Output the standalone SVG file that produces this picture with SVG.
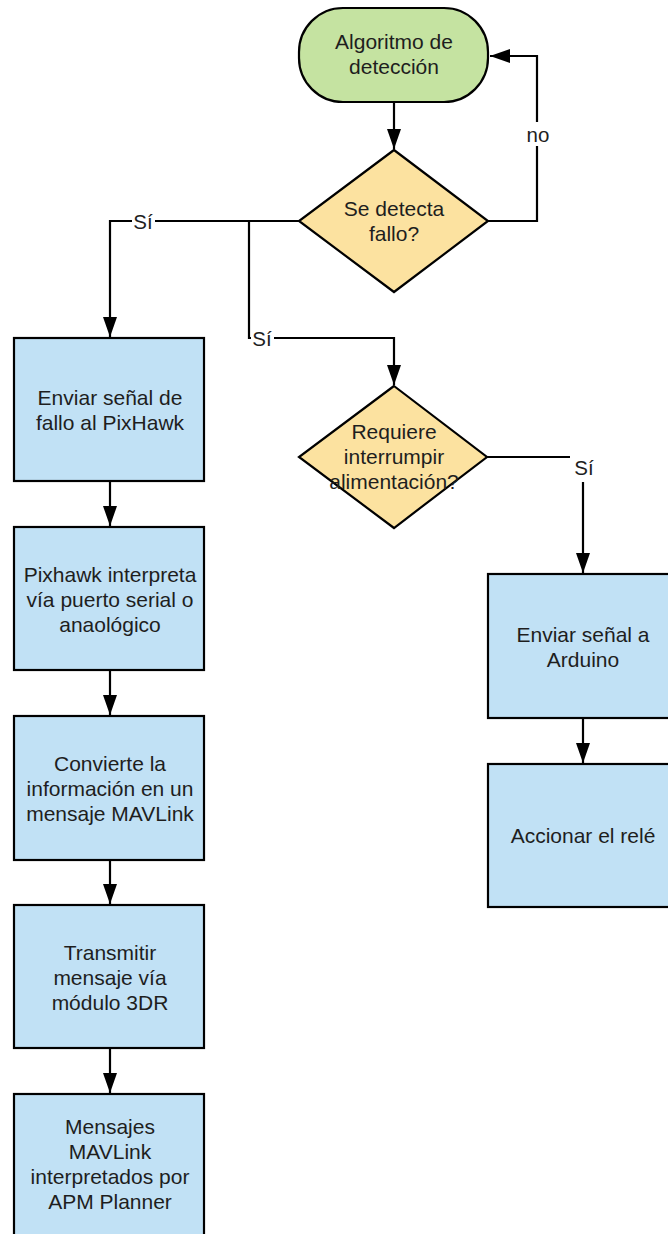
<svg xmlns="http://www.w3.org/2000/svg" width="668" height="1234" viewBox="0 0 668 1234">
  <style>
    .node { stroke: #000; stroke-width: 2.2; }
    .start { fill: #c5e3a1; }
    .decision { fill: #fce2a0; }
    .process { fill: #c1e1f5; }
    .label { font-family: "Liberation Sans", Arial, sans-serif; font-size: 21px; fill: #1e1e1e; text-anchor: middle; dominant-baseline: central; }
    .edge { fill: none; stroke: #000; stroke-width: 2.2; }
    .edge-label { font-family: "Liberation Sans", Arial, sans-serif; font-size: 20.5px; fill: #1e1e1e; text-anchor: middle; dominant-baseline: central; }
    .label-bg { fill: #fff; }
  </style>
  <defs>
    <marker id="arrow" markerUnits="userSpaceOnUse" markerWidth="20" markerHeight="14" viewBox="0 0 20 14" refX="20" refY="7" orient="auto">
      <path d="M0,0 L20,7 L0,14 z" fill="#000"/>
    </marker>
  </defs>

  <rect width="668" height="1234" fill="#fff"/>

  <!-- connectors -->
  <g id="connectors">
    <path class="edge" d="M394,102 V149" marker-end="url(#arrow)"/>
    <path class="edge" d="M488,221 H537 V56 H490" marker-end="url(#arrow)"/>
    <path class="edge" d="M299,221 H110 V337" marker-end="url(#arrow)"/>
    <path class="edge" d="M249,221 V338 H394 V385" marker-end="url(#arrow)"/>
    <path class="edge" d="M487,457 H583 V573" marker-end="url(#arrow)"/>
    <path class="edge" d="M110,481 V526" marker-end="url(#arrow)"/>
    <path class="edge" d="M110,670 V715" marker-end="url(#arrow)"/>
    <path class="edge" d="M110,860 V904" marker-end="url(#arrow)"/>
    <path class="edge" d="M110,1048 V1093" marker-end="url(#arrow)"/>
    <path class="edge" d="M583,718 V763" marker-end="url(#arrow)"/>

    <rect class="label-bg" x="526" y="122" width="24" height="24"/>
    <text class="edge-label" x="538" y="134">no</text>
    <rect class="label-bg" x="132" y="210" width="23" height="22"/>
    <text class="edge-label" x="143" y="221">Sí</text>
    <rect class="label-bg" x="251" y="327" width="23" height="22"/>
    <text class="edge-label" x="262" y="338">Sí</text>
    <rect class="label-bg" x="570" y="452" width="26" height="30"/>
    <text class="edge-label" x="584" y="467">Sí</text>
  </g>

  <!-- start -->
  <g id="start">
    <rect class="node start" x="299" y="8" width="189" height="94" rx="44" ry="44"/>
    <text class="label" x="394" y="41">Algoritmo de</text>
    <text class="label" x="394" y="66">detección</text>
  </g>

  <!-- decision: fault detected -->
  <g id="detect-fault">
    <polygon class="node decision" points="394,150 488,221 394,292 299,221"/>
    <text class="label" x="394" y="208">Se detecta</text>
    <text class="label" x="394" y="233">fallo?</text>
  </g>

  <!-- decision: cut power -->
  <g id="cut-power">
    <polygon class="node decision" points="394,386 487,457 394,528 299,457"/>
    <text class="label" x="394" y="431">Requiere</text>
    <text class="label" x="394" y="456">interrumpir</text>
    <text class="label" x="394" y="481">alimentación?</text>
  </g>

  <!-- left column -->
  <g id="send-pixhawk">
    <rect class="node process" x="14" y="338" width="190" height="143"/>
    <text class="label" x="110" y="397">Enviar señal de</text>
    <text class="label" x="110" y="422">fallo al PixHawk</text>
  </g>

  <g id="pixhawk-interprets">
    <rect class="node process" x="14" y="527" width="190" height="143"/>
    <text class="label" x="110" y="574">Pixhawk interpreta</text>
    <text class="label" x="110" y="599">vía puerto serial o</text>
    <text class="label" x="110" y="624">anaológico</text>
  </g>

  <g id="to-mavlink">
    <rect class="node process" x="14" y="716" width="190" height="144"/>
    <text class="label" x="110" y="763">Convierte la</text>
    <text class="label" x="110" y="788">información en un</text>
    <text class="label" x="110" y="813">mensaje MAVLink</text>
  </g>

  <g id="transmit-3dr">
    <rect class="node process" x="14" y="905" width="190" height="143"/>
    <text class="label" x="110" y="952">Transmitir</text>
    <text class="label" x="110" y="977">mensaje vía</text>
    <text class="label" x="110" y="1002">módulo 3DR</text>
  </g>

  <g id="apm-planner">
    <rect class="node process" x="14" y="1094" width="190" height="143"/>
    <text class="label" x="110" y="1126">Mensajes</text>
    <text class="label" x="110" y="1151">MAVLink</text>
    <text class="label" x="110" y="1176">interpretados por</text>
    <text class="label" x="110" y="1201">APM Planner</text>
  </g>

  <!-- right column -->
  <g id="send-arduino">
    <rect class="node process" x="488" y="574" width="190" height="144"/>
    <text class="label" x="583" y="634">Enviar señal a</text>
    <text class="label" x="583" y="659">Arduino</text>
  </g>

  <g id="relay">
    <rect class="node process" x="488" y="764" width="190" height="143"/>
    <text class="label" x="583" y="835">Accionar el relé</text>
  </g>
</svg>
